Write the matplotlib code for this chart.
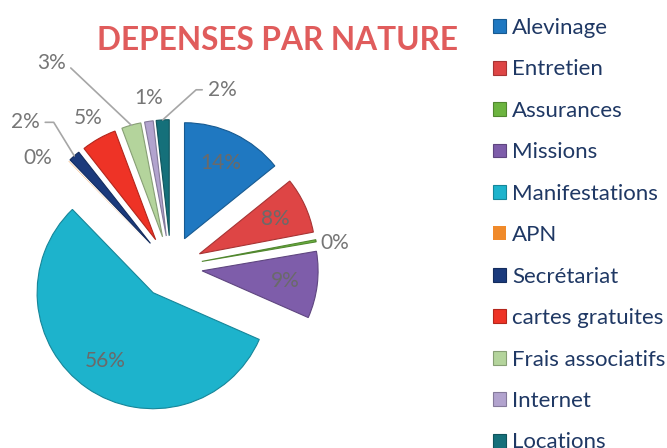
import numpy as np
import matplotlib
matplotlib.use('Agg')
import matplotlib.pyplot as plt
from matplotlib.colors import to_rgb

# depenses par nature (parts en %)
categories = ['Alevinage', 'Entretien', 'Assurances', 'Missions', 'Manifestations', 'APN',
              'Secrétariat', 'cartes gratuites', 'Frais associatifs', 'Internet', 'Locations']
parts = [14.2, 7.8, 0.3, 9.3, 56.15, 0.05, 1.6, 4.9, 2.7, 1.2, 1.8]
pct_labels = ['14%', '8%', '0%', '9%', '56%', '0%', '2%', '5%', '3%', '1%', '2%']

colors = ['#1F78C1', '#DE4545', '#6CB43F', '#7E5DAA', '#1DB3CC', '#F08A2A',
          '#1B3A7C', '#EE3326', '#B4D49C', '#B2A3CE', '#15707A']

plt.rcParams['font.family'] = ['Lato', 'DejaVu Sans']

fig = plt.figure(figsize=(6.67, 4.48), dpi=100)
ax = fig.add_axes([0, 0, 1, 1])

wedges, _ = ax.pie(parts, colors=colors, startangle=90, counterclock=False,
                   explode=[0.27] * len(parts), radius=1.0)
for w, c, p in zip(wedges, colors, parts):
    w.set_edgecolor(np.array(to_rgb(c)) * 0.75)
    w.set_linewidth(0.8 if p > 0.1 else 0)

# 116 px par unite de rayon, centre du camembert a (171, 267) px
ax.set_xlim(-171 / 116, (667 - 171) / 116)
ax.set_ylim(-(448 - 267) / 116, 267 / 116)
ax.set_aspect('auto')
ax.axis('off')

inside = [0, 1, 3, 4]
# index: (angle horaire depuis le haut, distance au centre)
outside = {2: (81.7, 1.43), 5: (309.3, 1.48), 7: (330.9, 1.47), 9: (352.3, 1.47)}
# index: (angle horaire depuis le haut, distance, angle du trait)
leaders = {6: (314.8, 1.77, 121.5), 8: (329.7, 2.04, 136.6), 10: (16.1, 1.59, 42.0)}
txt_col = '#767676'

for i, w in enumerate(wedges):
    mid = np.deg2rad((w.theta1 + w.theta2) / 2)
    cx, cy = w.center
    dx, dy = np.cos(mid), np.sin(mid)
    if i in inside:
        ax.text(cx + 0.72 * dx, cy + 0.72 * dy, pct_labels[i], ha='center', va='center',
                fontsize=15, color='#6A6A6A')
    elif i in leaders:
        ang, dist, angB = leaders[i]
        a = np.deg2rad(90 - ang)
        tx, ty = dist * np.cos(a), dist * np.sin(a)
        ax.annotate(pct_labels[i], xy=(cx + dx, cy + dy), xytext=(tx, ty),
                    ha='center', va='center', fontsize=15, color=txt_col,
                    arrowprops=dict(arrowstyle='-', color='#A6A6A6', lw=1.2,
                                    shrinkA=2, shrinkB=0,
                                    relpos=(1, 0.5) if tx < 0 else (0, 0.5),
                                    connectionstyle='angle,angleA=0,angleB=%g,rad=0' % angB))
    else:
        ang, dist = outside[i]
        a = np.deg2rad(90 - ang)
        ax.text(dist * np.cos(a), dist * np.sin(a), pct_labels[i], ha='center', va='center',
                fontsize=15, color=txt_col)

fig.text(277.5 / 667, 1 - 50 / 448, 'DEPENSES PAR NATURE', ha='center', va='baseline',
         fontsize=22.8, fontweight='bold', color='#E05C5C')

leg = fig.legend(wedges, categories, loc='upper left', bbox_to_anchor=(493 / 667, 1 - 18 / 448),
                 frameon=False, fontsize=16, handlelength=0.58, handleheight=0.58,
                 handletextpad=0.28, labelspacing=0.965, borderpad=0, borderaxespad=0)
for t in leg.get_texts():
    t.set_color('#1F3864')

fig.savefig('out.png', dpi=100)
